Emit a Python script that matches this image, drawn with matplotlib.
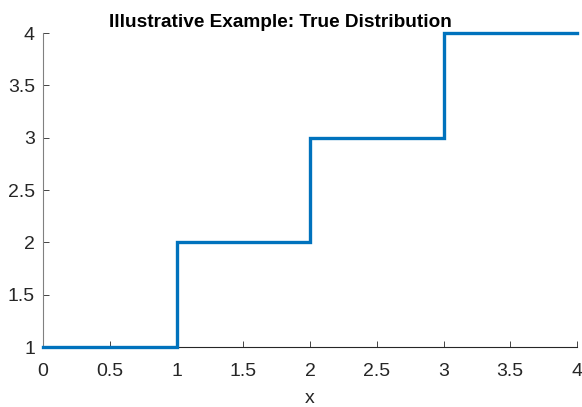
import matplotlib
matplotlib.use("Agg")
import matplotlib.pyplot as plt

# ---- data ----
x_edges = [0, 1, 2, 3, 4]
y_vals = [1, 2, 3, 4, 4]
x_ticks = [0, 0.5, 1, 1.5, 2, 2.5, 3, 3.5, 4]
y_ticks = [1, 1.5, 2, 2.5, 3, 3.5, 4]

plt.rcParams["font.family"] = ["Liberation Sans", "DejaVu Sans"]

fig = plt.figure(figsize=(5.82, 4.07), dpi=100)
ax = fig.add_axes([43 / 582, 60 / 407, 534 / 582, 314 / 407])

ax.plot(x_edges, y_vals, drawstyle="steps-post", color="#0072BD", linewidth=2.4,
        solid_joinstyle="miter", zorder=3, clip_on=False)

ax.set_xlim(0, 4)
ax.set_ylim(1, 4)
ax.set_xticks(x_ticks)
ax.set_yticks(y_ticks)
ax.set_xticklabels([f"{t:g}" for t in x_ticks])
ax.set_yticklabels([f"{t:g}" for t in y_ticks])
ax.tick_params(direction="in", length=4, width=0.6, labelsize=14, colors="#262626")
ax.tick_params(axis="x", pad=11.5)
ax.tick_params(axis="y", pad=5.8)
ax.spines["top"].set_visible(False)
ax.spines["right"].set_visible(False)
ax.spines["left"].set_color("#808080")
ax.spines["bottom"].set_color("#262626")
ax.spines["left"].set_linewidth(0.8)
ax.spines["bottom"].set_linewidth(0.8)

ax.set_xlabel("x", fontsize=14, color="#262626", labelpad=7)
# title sits left of the axes centre in the reference
ax.set_title("Illustrative Example: True Distribution", fontsize=13.7, fontweight="bold",
             pad=4, x=(280 - 43) / 534)

fig.savefig("out.png", dpi=100)
